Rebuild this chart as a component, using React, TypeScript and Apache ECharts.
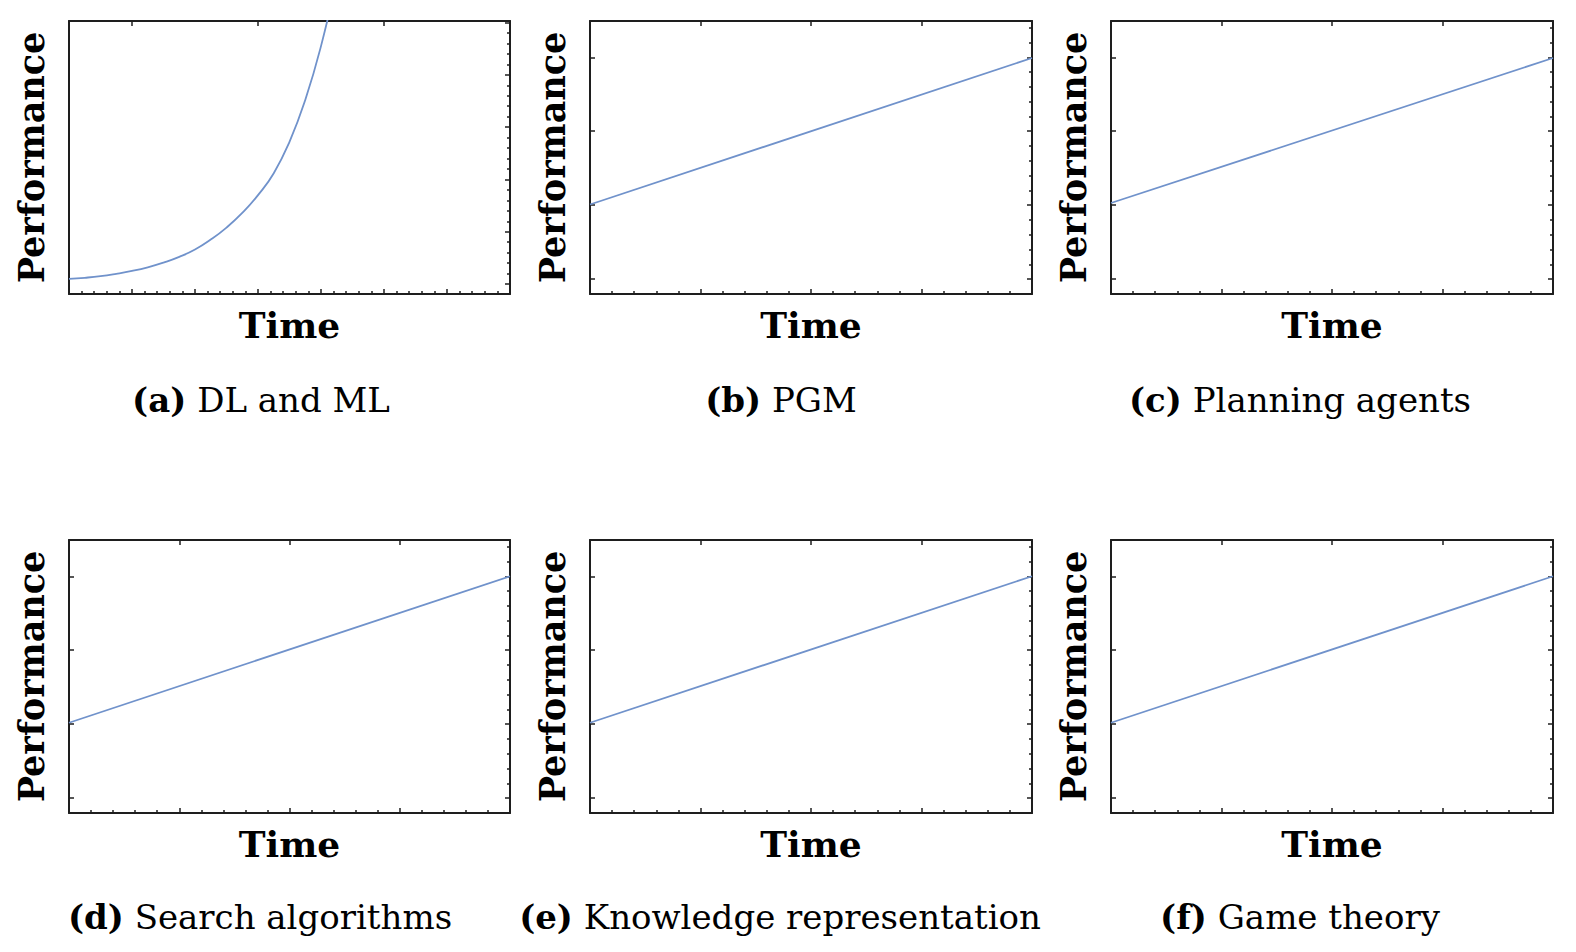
import React, { useEffect, useRef } from "react";
import * as echarts from "echarts";

// ---------- texts ----------
const panelLetters = ["(a)", "(b)", "(c)", "(d)", "(e)", "(f)"];
const panelTitles = [
  "DL and ML",
  "PGM",
  "Planning agents",
  "Search algorithms",
  "Knowledge representation",
  "Game theory",
];
const xAxisTitle = "Time";
const yAxisTitle = "Performance";

// ---------- data ----------
// (a) DL and ML: fast-growing curve
const dlTime = [0, 0.25, 0.5, 0.75, 1, 1.25, 1.5, 1.75, 2, 2.25, 2.5, 2.75, 3, 3.25, 3.5, 3.75, 4, 4.25];
const dlPerformance = [
  0.1, 0.12, 0.15, 0.195, 0.25, 0.32, 0.41, 0.52, 0.66, 0.85, 1.08, 1.36, 1.7, 2.12, 2.72, 3.52, 4.55, 5.85,
];

// (b)-(f): straight lines
const linearTime = [0, 1];
const pgmPerformance = [1.01, 2.99];
const planningPerformance = [1.03, 2.99];
const searchPerformance = [1.02, 3.0];
const knowledgePerformance = [1.02, 3.0];
const gameTheoryPerformance = [1.02, 3.0];

// ---------- axis ranges & ticks ----------
const dlTimeRange = [0, 7];
const dlPerfRange = [-0.19, 5.03];
const dlTimeMajorTicks = [1, 2, 3, 4, 5, 6];
const dlTimeTopTicks = [1, 3, 5];
const dlPerfMajorTicks = [0, 1, 2, 3, 4, 5];

const linTimeRange = [0, 1];
const linPerfRange = [-0.2, 3.49];
const linTimeMajorTicks = [0.25, 0.5, 0.75];
const linPerfMajorTicks = [0, 1, 2, 3];

function minorTicks(from: number, to: number, step: number, majors: number[]) {
  const out: number[] = [];
  const n = Math.round((to - from) / step);
  for (let i = 0; i <= n; i++) {
    const v = Math.round((from + i * step) * 10000) / 10000;
    if (!majors.some((m) => Math.abs(m - v) < 1e-6)) out.push(v);
  }
  return out;
}

const dlTimeMinorTicks = minorTicks(0.2, 6.8, 0.2, dlTimeMajorTicks);
const dlPerfMinorTicks = minorTicks(0.2, 4.8, 0.2, dlPerfMajorTicks);
const linTimeMinorTicks = minorTicks(0.05, 0.95, 0.05, linTimeMajorTicks);
const linPerfMinorTicks = minorTicks(0.2, 3.4, 0.2, linPerfMajorTicks);

// ---------- layout ----------
const gridRects = [
  { left: 69, top: 21, width: 441, height: 273 },
  { left: 590, top: 21, width: 442, height: 273 },
  { left: 1111, top: 21, width: 442, height: 273 },
  { left: 69, top: 540, width: 441, height: 273 },
  { left: 590, top: 540, width: 442, height: 273 },
  { left: 1111, top: 540, width: 442, height: 273 },
];
const captionCenters = [
  [261, 400],
  [781, 400],
  [1300, 400],
  [260, 917],
  [780, 917],
  [1300, 917],
];

const FRAME = "#1e1e1e";
const LINE_COLOR = "#7092cb";
const SERIF = "'DejaVu Serif', 'Liberation Serif', serif";

type Panel = {
  time: number[];
  perf: number[];
  xRange: number[];
  yRange: number[];
  xMajor: number[];
  xMinor: number[];
  xTop: number[];
  yLeft: number[];
  yMajor: number[];
  yMinor: number[];
};

const panels: Panel[] = [
  {
    time: dlTime, perf: dlPerformance, xRange: dlTimeRange, yRange: dlPerfRange,
    xMajor: dlTimeMajorTicks, xMinor: dlTimeMinorTicks, xTop: dlTimeTopTicks,
    yLeft: [], yMajor: dlPerfMajorTicks, yMinor: dlPerfMinorTicks,
  },
  ...[pgmPerformance, planningPerformance, searchPerformance, knowledgePerformance, gameTheoryPerformance].map(
    (perf) => ({
      time: linearTime, perf, xRange: linTimeRange, yRange: linPerfRange,
      xMajor: linTimeMajorTicks, xMinor: linTimeMinorTicks, xTop: linTimeMajorTicks,
      yLeft: linPerfMajorTicks, yMajor: linPerfMajorTicks, yMinor: linPerfMinorTicks,
    })
  ),
];

function tickAxis(
  gridIndex: number,
  position: string,
  range: number[],
  ticks: number[],
  len: number,
  showLine: boolean,
  extra: any = {}
) {
  return {
    type: "value",
    gridIndex,
    position,
    min: range[0],
    max: range[1],
    axisLine: { show: showLine, onZero: false, lineStyle: { color: FRAME, width: 2 } },
    axisTick: {
      show: ticks.length > 0,
      inside: true,
      length: len,
      customValues: ticks,
      lineStyle: { color: FRAME, width: 1.5 },
    },
    axisLabel: { show: false },
    splitLine: { show: false },
    minorTick: { show: false },
    ...extra,
  };
}

function buildOption() {
  const xAxis: any[] = [];
  const yAxis: any[] = [];
  const series: any[] = [];
  const grid: any[] = [];
  panels.forEach((p, i) => {
    grid.push({ ...gridRects[i], outerBoundsMode: "none", containLabel: false });
    xAxis.push(
      tickAxis(i, "bottom", p.xRange, p.xMajor, 5, true, {
        name: xAxisTitle,
        nameLocation: "middle",
        nameGap: 13,
        nameTextStyle: {
          fontFamily: SERIF,
          fontWeight: "bold",
          fontSize: 36,
          color: "#000",
          verticalAlign: "top",
        },
      }),
      tickAxis(i, "bottom", p.xRange, p.xMinor, 3, false),
      tickAxis(i, "top", p.xRange, p.xTop, 5, true)
    );
    yAxis.push(
      tickAxis(i, "left", p.yRange, p.yLeft, 5, true, {
        name: yAxisTitle,
        nameLocation: "middle",
        nameRotate: 90,
        nameGap: 20,
        nameTextStyle: {
          fontFamily: SERIF,
          fontWeight: "bold",
          fontSize: 35,
          color: "#000",
        },
      }),
      tickAxis(i, "right", p.yRange, p.yMajor, 5, true),
      tickAxis(i, "right", p.yRange, p.yMinor, 3, false)
    );
    series.push({
      type: "line",
      xAxisIndex: i * 3,
      yAxisIndex: i * 3,
      data: p.time.map((t, k) => [t, p.perf[k]]),
      showSymbol: false,
      smooth: i === 0 ? 0.5 : false,
      clip: true,
      lineStyle: { color: LINE_COLOR, width: 1.8 },
      silent: true,
    });
  });

  const graphic = panelTitles.map((title, i) => ({
    type: "text",
    x: captionCenters[i][0],
    y: captionCenters[i][1],
    style: {
      text: `{b|${panelLetters[i]}} {r|${title}}`,
      align: "center",
      verticalAlign: "middle",
      fill: "#000",
      rich: {
        b: { fontFamily: SERIF, fontWeight: "bold", fontSize: 34, fill: "#000" },
        r: { fontFamily: SERIF, fontWeight: "normal", fontSize: 34, fill: "#000" },
      },
      font: `34px ${SERIF}`,
    },
  }));

  return {
    animation: false,
    backgroundColor: "#ffffff",
    grid,
    xAxis,
    yAxis,
    series,
    graphic,
  };
}

export default function App() {
  const ref = useRef<HTMLDivElement>(null);
  useEffect(() => {
    if (!ref.current) return;
    const chart = echarts.init(ref.current, undefined, { renderer: "svg" });
    chart.setOption(buildOption() as any);
    return () => chart.dispose();
  }, []);
  return (
    <div
      ref={ref}
      style={{ position: "absolute", left: 0, top: 0, width: 1576, height: 952, background: "#fff" }}
    />
  );
}
